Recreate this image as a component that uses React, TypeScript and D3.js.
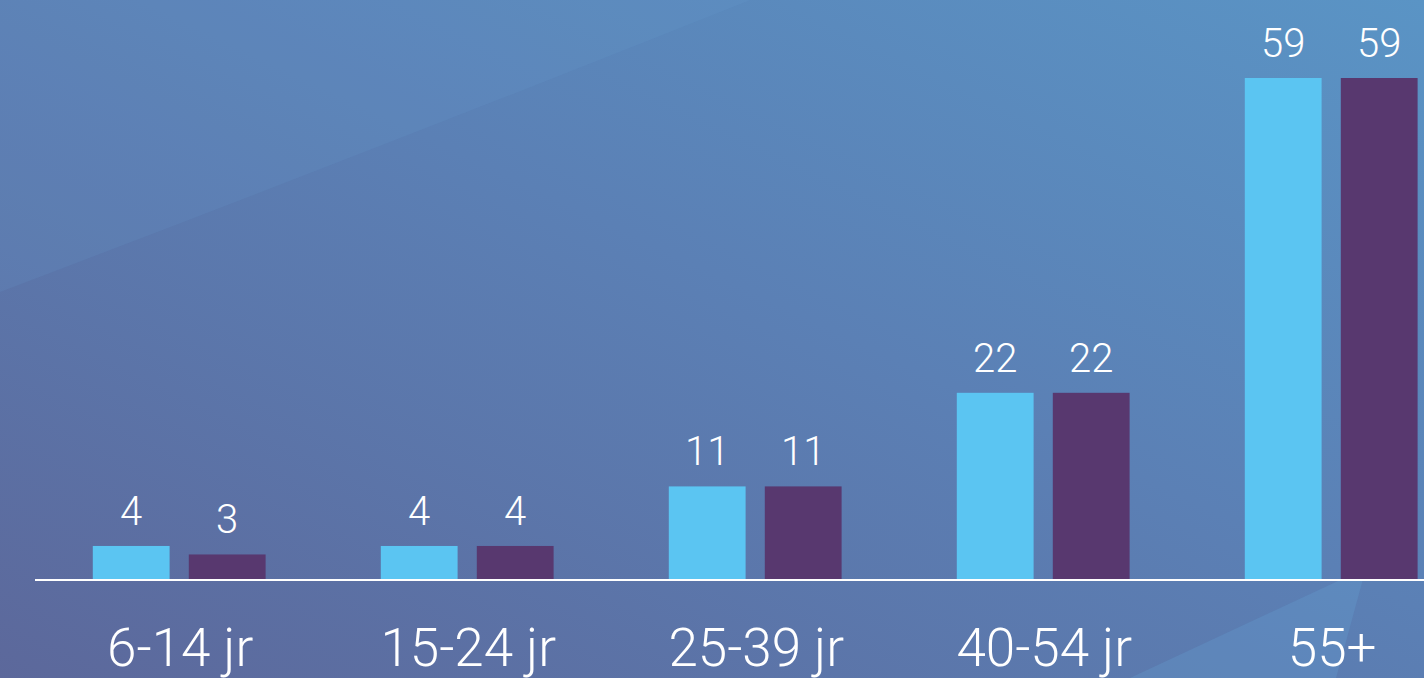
import React from 'react';
import * as d3 from 'd3';

const categories = ['6-14 jr', '15-24 jr', '25-39 jr', '40-54 jr', '55+'];
const seriesKeys = ['a', 'b'];
const seriesA = [4, 4, 11, 22, 59];
const seriesB = [3, 4, 11, 22, 59];

const W = 1424;
const H = 678;
const COLORS: Record<string, string> = { a: '#5bc5f2', b: '#58386f' };

export default function App() {
  const baseline = 580;

  const x0 = d3.scaleBand<string>()
    .domain(categories)
    .range([35.2, 1475.2])
    .paddingInner(0.4)
    .paddingOuter(0.2);

  const x1 = d3.scaleBand<string>()
    .domain(seriesKeys)
    .range([0, x0.bandwidth()])
    .paddingInner(0.2);

  const y = d3.scaleLinear().domain([0, 59]).range([baseline, 78]);

  const rows = categories.map((c, i) => ({ cat: c, a: seriesA[i], b: seriesB[i] }));

  return (
    <>
      <style>{'body{margin:0;overflow:hidden}'}</style>
      <svg width={W} height={H} style={{ display: 'block', fontFamily: 'Roboto, sans-serif' }}>
        <defs>
          <linearGradient id="bg" x1="0" y1="1" x2="1" y2="0">
            <stop offset="0%" stopColor="#5c689b" />
            <stop offset="55%" stopColor="#5b80b5" />
            <stop offset="100%" stopColor="#5a94c5" />
          </linearGradient>
        </defs>
        <rect width={W} height={H} fill="url(#bg)" />
        {/* lighter facets in the background */}
        <path d="M0,0 L750,0 Q400,140 0,292 Z" fill="#6aa0d8" opacity={0.14} />
        <path d="M1130,678 L1366,568 L1336,678 Z" fill="#6aaee0" opacity={0.22} />

        {rows.map(r => (
          <g key={r.cat} transform={`translate(${x0(r.cat)},0)`}>
            {seriesKeys.map(k => {
              const v = (r as any)[k] as number;
              const bx = x1(k)!;
              return (
                <g key={k}>
                  <rect
                    x={bx}
                    y={y(v)}
                    width={x1.bandwidth()}
                    height={baseline - y(v)}
                    fill={COLORS[k]}
                  />
                  <text
                    x={bx + x1.bandwidth() / 2}
                    y={y(v) - 21}
                    textAnchor="middle"
                    fill="#fff"
                    fontSize={40}
                    fontWeight={300}
                  >
                    {v}
                  </text>
                </g>
              );
            })}
            <text
              x={x0.bandwidth() / 2 + 1}
              y={666}
              textAnchor="middle"
              fill="#fff"
              fontSize={53}
              fontWeight={300}
            >
              {r.cat}
            </text>
          </g>
        ))}

        <line x1={35} x2={W} y1={baseline} y2={baseline} stroke="#fff" strokeWidth={2} />
      </svg>
    </>
  );
}
